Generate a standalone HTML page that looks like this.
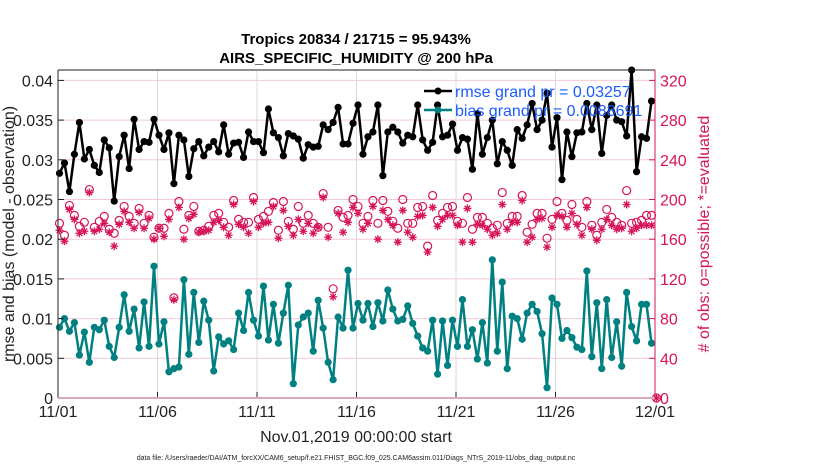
<!DOCTYPE html>
<html><head><meta charset="utf-8"><style>
html,body{margin:0;padding:0;background:#fff;}
svg{display:block;font-family:"Liberation Sans",Arial,sans-serif;}
</style></head><body>
<svg id="chart" width="830" height="470" viewBox="0 0 830 470">
<text x="356" y="44" text-anchor="middle" font-size="15" font-weight="bold">Tropics 20834 / 21715 = 95.943%</text>
<text x="356" y="63" text-anchor="middle" font-size="15" font-weight="bold">AIRS_SPECIFIC_HUMIDITY @ 200 hPa</text>
<g id="grid"></g>
<g id="marks"></g>
<g id="axes"></g>
<text x="356" y="442" text-anchor="middle" font-size="16" fill="#222">Nov.01,2019 00:00:00 start</text>
<text x="356" y="460" text-anchor="middle" font-size="7" fill="#222">data file: /Users/raeder/DAI/ATM_forcXX/CAM6_setup/f.e21.FHIST_BGC.f09_025.CAM6assim.011/Diags_NTrS_2019-11/obs_diag_output.nc</text>
<text transform="translate(14,234) rotate(-90)" text-anchor="middle" font-size="16" fill="#222">rmse and bias (model - observation)</text>
<text transform="translate(709,234) rotate(-90)" text-anchor="middle" font-size="16" fill="#d6145a"># of obs: o=possible; *=evaluated</text>
<g>
<line x1="424" y1="91" x2="452" y2="91" stroke="#000" stroke-width="2.5"/>
<circle cx="438" cy="91" r="3.5" fill="#000"/>
<text x="455" y="97" font-size="16" fill="#1a5cff">rmse grand pr = 0.03257</text>
<line x1="424" y1="110" x2="452" y2="110" stroke="#008080" stroke-width="2.5"/>
<circle cx="438" cy="110" r="3.5" fill="#008080"/>
<text x="455" y="116" font-size="16" fill="#1a5cff">bias grand pr = 0.0088691</text>
</g>
</svg>
<script>
const xTickLabels=["11/01","11/06","11/11","11/16","11/21","11/26","12/01"];
const leftTicks=[0,0.005,0.01,0.015,0.02,0.025,0.03,0.035,0.04];
const leftTickLabels=["0","0.005","0.01","0.015","0.02","0.025","0.03","0.035","0.04"];
const rightTicks=[0,40,80,120,160,200,240,280,320];
const rmse=[0.0283,0.0296,0.0260,0.0307,0.0347,0.0301,0.0313,0.0293,0.0284,0.0325,0.0315,0.0248,0.0304,0.0331,0.0289,0.0351,0.0313,0.0323,0.0322,0.0351,0.0331,0.0313,0.0334,0.0270,0.0331,0.0325,0.0279,0.0314,0.0323,0.0305,0.0316,0.0323,0.0310,0.0344,0.0307,0.0321,0.0322,0.0303,0.0335,0.0323,0.0323,0.0309,0.0364,0.0334,0.0328,0.0305,0.0333,0.0330,0.0326,0.0302,0.0319,0.0316,0.0317,0.0344,0.0338,0.0347,0.0366,0.0320,0.0320,0.0346,0.0369,0.0307,0.0329,0.0335,0.0369,0.0280,0.0335,0.0341,0.0335,0.0321,0.0331,0.0329,0.0369,0.0325,0.0312,0.0322,0.0369,0.0329,0.0331,0.0345,0.0312,0.0328,0.0326,0.0288,0.0358,0.0307,0.0328,0.0350,0.0295,0.0323,0.0312,0.0293,0.0338,0.0327,0.0344,0.0371,0.0338,0.0350,0.0384,0.0316,0.0353,0.0275,0.0335,0.0304,0.0334,0.0335,0.0371,0.0338,0.0369,0.0308,0.0356,0.0369,0.0350,0.0348,0.0330,0.0413,0.0285,0.0329,0.0327,0.0374];
const bias=[0.0089,0.0100,0.0084,0.0095,0.0054,0.0083,0.0045,0.0089,0.0086,0.0098,0.0065,0.0051,0.0089,0.0130,0.0084,0.0112,0.0063,0.0121,0.0065,0.0166,0.0068,0.0096,0.0033,0.0037,0.0039,0.0149,0.0055,0.0133,0.0070,0.0122,0.0098,0.0034,0.0077,0.0068,0.0072,0.0061,0.0107,0.0085,0.0133,0.0098,0.0078,0.0141,0.0073,0.0118,0.0069,0.0107,0.0142,0.0018,0.0092,0.0102,0.0107,0.0059,0.0123,0.0088,0.0045,0.0023,0.0102,0.0088,0.0161,0.0088,0.0119,0.0098,0.0119,0.0090,0.0120,0.0097,0.0136,0.0112,0.0097,0.0099,0.0116,0.0094,0.0078,0.0063,0.0059,0.0098,0.0030,0.0097,0.0041,0.0098,0.0065,0.0124,0.0065,0.0086,0.0049,0.0095,0.0044,0.0174,0.0059,0.0146,0.0037,0.0103,0.0100,0.0074,0.0107,0.0118,0.0109,0.0081,0.0013,0.0126,0.0118,0.0075,0.0085,0.0076,0.0064,0.0061,0.0160,0.0052,0.0120,0.0037,0.0124,0.0051,0.0096,0.0040,0.0133,0.0090,0.0072,0.0118,0.0118,0.0069];
const possible=[176,164,194,184,173,177,210,172,178,183,170,166,179,193,183,176,191,176,184,162,171,171,186,101,198,170,184,193,168,169,173,184,186,177,172,199,180,177,177,202,180,183,188,197,169,198,178,170,193,176,184,176,172,206,172,110,189,182,184,200,193,176,183,199,176,199,188,178,171,200,176,176,192,193,153,204,179,186,192,193,178,176,202,170,182,182,176,171,174,207,176,183,183,204,167,175,186,186,161,180,198,186,179,195,180,172,198,174,164,177,190,182,177,174,209,176,177,179,184,184,0];
const evaluated=[169,158,190,180,166,168,207,168,170,176,167,153,175,188,177,171,187,171,181,160,171,163,180,99,192,160,181,185,167,168,169,177,179,172,164,195,175,172,166,198,172,176,177,193,161,189,173,164,180,168,176,166,172,202,162,102,186,167,177,192,186,170,176,193,160,189,180,174,157,189,167,162,183,184,147,192,173,180,184,184,174,157,191,157,175,174,170,164,166,195,170,177,177,199,157,162,180,181,152,172,184,183,172,186,175,164,192,170,159,170,180,174,170,171,195,168,171,174,174,174,0];

const NS="http://www.w3.org/2000/svg";
const X0=58,X1=655,Y0=398,YT=70,DAYS=30;
const PPD=(X1-X0)/DAYS;
const LMAX=0.005*(Y0-YT)/39.7;
const RMAX=LMAX*8000;
function xIdx(i){return X0+(i+0.3)*PPD/4;}
function xDay(d){return X0+d*PPD;}
function yL(v){return Y0-v/LMAX*(Y0-YT);}
function yR(v){return Y0-v/RMAX*(Y0-YT);}
function mk(tag,attrs,parent){const e=document.createElementNS(NS,tag);for(const k in attrs)e.setAttribute(k,attrs[k]);parent.appendChild(e);return e;}
const grid=document.getElementById('grid'),marks=document.getElementById('marks'),axes=document.getElementById('axes');

xTickLabels.forEach((t,k)=>{
  const x=xDay(k*5);
  const g=mk('line',{x1:x,y1:YT,x2:x,y2:Y0,stroke:'#d9d9d9','stroke-width':1},grid);
  
  
  const tk=mk('line',{x1:x,y1:Y0,x2:x,y2:Y0-6,stroke:'#222','stroke-width':1},axes);
  
  
  const tx=mk('text',{x:x,y:417,'text-anchor':'middle','font-size':16,fill:'#222'},axes);
  tx.textContent=t;
  
  
});
leftTicks.forEach((v,k)=>{
  const y=yL(v);
  if(k>0){
    const g=mk('line',{x1:X0,y1:y,x2:X1,y2:y,stroke:'#f2c9d8','stroke-width':1},grid);
    
    
  }
  const tk=mk('line',{x1:X0,y1:y,x2:X0+6,y2:y,stroke:'#222'},axes);
  
  
  const tx=mk('text',{x:X0-5,y:y+6,'text-anchor':'end','font-size':16,fill:'#222'},axes);
  tx.textContent=leftTickLabels[k];
  
  
});
rightTicks.forEach(v=>{
  const y=yR(v);
  const tk=mk('line',{x1:X1,y1:y,x2:X1-6,y2:y,stroke:'#d6145a'},axes);
  
  
  const tx=mk('text',{x:X1+5,y:y+6,'font-size':16,fill:'#d6145a'},axes);
  tx.textContent=String(v);
  
  
});
const la=mk('line',{x1:X0,y1:YT,x2:X0,y2:Y0,stroke:'#222','stroke-width':1},axes);


const ta=mk('line',{x1:X0,y1:YT,x2:X1,y2:YT,stroke:'#222','stroke-width':1},axes);


const ba=mk('line',{x1:X0,y1:Y0,x2:X1,y2:Y0,stroke:'#d8a9b8','stroke-width':2},axes);


const ra=mk('line',{x1:X1,y1:YT,x2:X1,y2:Y0,stroke:'#d6145a','stroke-width':1},axes);



// counts
function star(cx,cy,parent){
  const s=4;
  const p=mk('path',{d:`M${cx-s},${cy}H${cx+s}M${cx},${cy-s}V${cy+s}M${cx-s*0.7},${cy-s*0.7}L${cx+s*0.7},${cy+s*0.7}M${cx-s*0.7},${cy+s*0.7}L${cx+s*0.7},${cy-s*0.7}`,stroke:'#d6145a','stroke-width':1.3,fill:'none'},parent);
  return p;
}
possible.forEach((v,i)=>{
  const c=mk('circle',{cx:xIdx(i),cy:yR(v),r:4,fill:'none',stroke:'#d6145a','stroke-width':1.2},marks);
  
  
});
evaluated.forEach((v,i)=>{
  const p=star(xIdx(i),yR(v),marks);
  
  
});
function series(arr,color,name){
  const d=arr.map((v,i)=>(i?'L':'M')+xIdx(i).toFixed(1)+','+yL(v).toFixed(1)).join('');
  const pl=mk('path',{d:d,fill:'none',stroke:color,'stroke-width':2.5,'stroke-linejoin':'round'},marks);
  
  
  arr.forEach((v,i)=>{
    const c=mk('circle',{cx:xIdx(i),cy:yL(v),r:3.6,fill:color},marks);
    
    
  });
}
series(bias,'#008080','bias');
series(rmse,'#000000','rmse');
</script>
</body></html>
